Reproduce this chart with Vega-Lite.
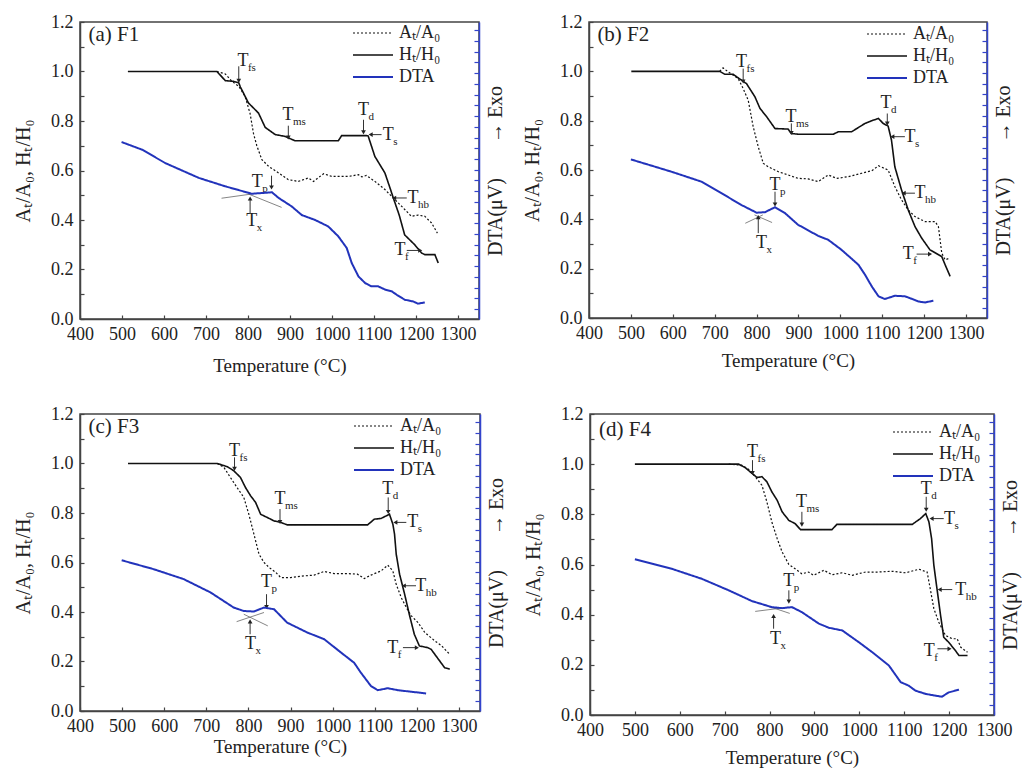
{
  "$schema": "https://vega.github.io/schema/vega-lite/v6.json",
  "padding": {"left": 12, "top": 12, "right": 0, "bottom": 0},
  "config": {
    "font": "Liberation Serif",
    "view": {"stroke": "#444444", "strokeWidth": 1.5},
    "axis": {"labelFont": "Liberation Serif", "titleFont": "Liberation Serif", "labelFontSize": 18, "titleFontSize": 19, "titleFontWeight": "normal", "labelColor": "#222", "titleColor": "#222", "grid": false, "domainColor": "#444", "tickColor": "#444", "domainWidth": 1.5, "tickWidth": 1.2, "labelFlush": false},
    "axisX": {"tickSize": -4, "labelPadding": 10, "titlePadding": 13, "values": [400,450,500,550,600,650,700,750,800,850,900,950,1000,1050,1100,1150,1200,1250,1300], "labelExpr": "datum.value % 100 === 0 ? format(datum.value, 'd') : ''"},
    "legend": {"labelFont": "Liberation Serif", "labelFontSize": 18, "labelColor": "#222", "symbolType": "stroke", "symbolSize": 1600, "symbolStrokeWidth": 2, "rowPadding": 2, "labelOffset": 5, "clipHeight": 20, "padding": 0},
    "text": {"color": "#222"},
    "point": {"filled": true, "color": "#222", "size": 22, "opacity": 1},
    "rule": {"color": "#333", "strokeWidth": 1}
  },
  "datasets": {
    "curves": [
      {"p":"a","s":"H","T":514,"v":1.0},{"p":"a","s":"H","T":726,"v":1.0},{"p":"a","s":"H","T":746,"v":0.963},{"p":"a","s":"H","T":766,"v":0.96},{"p":"a","s":"H","T":778,"v":0.954},{"p":"a","s":"H","T":782,"v":0.937},{"p":"a","s":"H","T":801,"v":0.873},{"p":"a","s":"H","T":825,"v":0.832},{"p":"a","s":"H","T":841,"v":0.774},{"p":"a","s":"H","T":865,"v":0.745},{"p":"a","s":"H","T":888,"v":0.738},{"p":"a","s":"H","T":912,"v":0.72},{"p":"a","s":"H","T":1015,"v":0.72},{"p":"a","s":"H","T":1023,"v":0.741},{"p":"a","s":"H","T":1082,"v":0.741},{"p":"a","s":"H","T":1086,"v":0.74},{"p":"a","s":"H","T":1102,"v":0.657},{"p":"a","s":"H","T":1126,"v":0.59},{"p":"a","s":"H","T":1138,"v":0.53},{"p":"a","s":"H","T":1146,"v":0.489},{"p":"a","s":"H","T":1160,"v":0.42},{"p":"a","s":"H","T":1173,"v":0.34},{"p":"a","s":"H","T":1197,"v":0.30},{"p":"a","s":"H","T":1213,"v":0.267},{"p":"a","s":"H","T":1221,"v":0.26},{"p":"a","s":"H","T":1245,"v":0.26},{"p":"a","s":"H","T":1253,"v":0.226},
      {"p":"a","s":"A","T":726,"v":1.0},{"p":"a","s":"A","T":746,"v":0.99},{"p":"a","s":"A","T":762,"v":0.96},{"p":"a","s":"A","T":778,"v":0.94},{"p":"a","s":"A","T":793,"v":0.90},{"p":"a","s":"A","T":805,"v":0.83},{"p":"a","s":"A","T":813,"v":0.75},{"p":"a","s":"A","T":821,"v":0.70},{"p":"a","s":"A","T":833,"v":0.644},{"p":"a","s":"A","T":849,"v":0.617},{"p":"a","s":"A","T":873,"v":0.59},{"p":"a","s":"A","T":896,"v":0.563},{"p":"a","s":"A","T":920,"v":0.556},{"p":"a","s":"A","T":944,"v":0.57},{"p":"a","s":"A","T":956,"v":0.556},{"p":"a","s":"A","T":980,"v":0.587},{"p":"a","s":"A","T":999,"v":0.576},{"p":"a","s":"A","T":1039,"v":0.576},{"p":"a","s":"A","T":1063,"v":0.583},{"p":"a","s":"A","T":1071,"v":0.574},{"p":"a","s":"A","T":1082,"v":0.58},{"p":"a","s":"A","T":1102,"v":0.556},{"p":"a","s":"A","T":1126,"v":0.523},{"p":"a","s":"A","T":1146,"v":0.489},{"p":"a","s":"A","T":1166,"v":0.455},{"p":"a","s":"A","T":1189,"v":0.415},{"p":"a","s":"A","T":1205,"v":0.42},{"p":"a","s":"A","T":1221,"v":0.415},{"p":"a","s":"A","T":1237,"v":0.388},{"p":"a","s":"A","T":1251,"v":0.347},
      {"p":"a","s":"DTA","T":499,"v":0.715},{"p":"a","s":"DTA","T":548,"v":0.684},{"p":"a","s":"DTA","T":603,"v":0.63},{"p":"a","s":"DTA","T":683,"v":0.57},{"p":"a","s":"DTA","T":746,"v":0.536},{"p":"a","s":"DTA","T":809,"v":0.506},{"p":"a","s":"DTA","T":833,"v":0.509},{"p":"a","s":"DTA","T":857,"v":0.512},{"p":"a","s":"DTA","T":873,"v":0.489},{"p":"a","s":"DTA","T":904,"v":0.455},{"p":"a","s":"DTA","T":928,"v":0.42},{"p":"a","s":"DTA","T":960,"v":0.40},{"p":"a","s":"DTA","T":991,"v":0.374},{"p":"a","s":"DTA","T":1015,"v":0.334},{"p":"a","s":"DTA","T":1035,"v":0.287},{"p":"a","s":"DTA","T":1047,"v":0.226},{"p":"a","s":"DTA","T":1063,"v":0.172},{"p":"a","s":"DTA","T":1079,"v":0.145},{"p":"a","s":"DTA","T":1094,"v":0.132},{"p":"a","s":"DTA","T":1110,"v":0.132},{"p":"a","s":"DTA","T":1126,"v":0.119},{"p":"a","s":"DTA","T":1142,"v":0.112},{"p":"a","s":"DTA","T":1154,"v":0.098},{"p":"a","s":"DTA","T":1173,"v":0.078},{"p":"a","s":"DTA","T":1193,"v":0.071},{"p":"a","s":"DTA","T":1205,"v":0.062},{"p":"a","s":"DTA","T":1221,"v":0.067},
      {"p":"b","s":"H","T":501,"v":1.0},{"p":"b","s":"H","T":712,"v":1.0},{"p":"b","s":"H","T":724,"v":0.988},{"p":"b","s":"H","T":744,"v":0.988},{"p":"b","s":"H","T":764,"v":0.964},{"p":"b","s":"H","T":776,"v":0.95},{"p":"b","s":"H","T":796,"v":0.897},{"p":"b","s":"H","T":808,"v":0.85},{"p":"b","s":"H","T":824,"v":0.816},{"p":"b","s":"H","T":844,"v":0.768},{"p":"b","s":"H","T":875,"v":0.766},{"p":"b","s":"H","T":883,"v":0.748},{"p":"b","s":"H","T":899,"v":0.745},{"p":"b","s":"H","T":983,"v":0.745},{"p":"b","s":"H","T":995,"v":0.755},{"p":"b","s":"H","T":1027,"v":0.755},{"p":"b","s":"H","T":1039,"v":0.768},{"p":"b","s":"H","T":1059,"v":0.789},{"p":"b","s":"H","T":1075,"v":0.8},{"p":"b","s":"H","T":1091,"v":0.809},{"p":"b","s":"H","T":1102,"v":0.789},{"p":"b","s":"H","T":1114,"v":0.778},{"p":"b","s":"H","T":1122,"v":0.721},{"p":"b","s":"H","T":1130,"v":0.613},{"p":"b","s":"H","T":1146,"v":0.519},{"p":"b","s":"H","T":1162,"v":0.438},{"p":"b","s":"H","T":1178,"v":0.371},{"p":"b","s":"H","T":1194,"v":0.324},{"p":"b","s":"H","T":1214,"v":0.276},{"p":"b","s":"H","T":1242,"v":0.249},{"p":"b","s":"H","T":1250,"v":0.216},{"p":"b","s":"H","T":1262,"v":0.169},
      {"p":"b","s":"A","T":712,"v":1.0},{"p":"b","s":"A","T":720,"v":1.014},{"p":"b","s":"A","T":732,"v":0.998},{"p":"b","s":"A","T":756,"v":0.971},{"p":"b","s":"A","T":768,"v":0.93},{"p":"b","s":"A","T":780,"v":0.883},{"p":"b","s":"A","T":792,"v":0.775},{"p":"b","s":"A","T":804,"v":0.694},{"p":"b","s":"A","T":816,"v":0.627},{"p":"b","s":"A","T":828,"v":0.613},{"p":"b","s":"A","T":852,"v":0.593},{"p":"b","s":"A","T":875,"v":0.58},{"p":"b","s":"A","T":899,"v":0.566},{"p":"b","s":"A","T":923,"v":0.564},{"p":"b","s":"A","T":947,"v":0.553},{"p":"b","s":"A","T":971,"v":0.58},{"p":"b","s":"A","T":991,"v":0.566},{"p":"b","s":"A","T":1019,"v":0.573},{"p":"b","s":"A","T":1051,"v":0.587},{"p":"b","s":"A","T":1075,"v":0.597},{"p":"b","s":"A","T":1091,"v":0.617},{"p":"b","s":"A","T":1114,"v":0.6},{"p":"b","s":"A","T":1130,"v":0.533},{"p":"b","s":"A","T":1146,"v":0.479},{"p":"b","s":"A","T":1162,"v":0.438},{"p":"b","s":"A","T":1178,"v":0.411},{"p":"b","s":"A","T":1202,"v":0.391},{"p":"b","s":"A","T":1226,"v":0.391},{"p":"b","s":"A","T":1234,"v":0.371},{"p":"b","s":"A","T":1242,"v":0.263},{"p":"b","s":"A","T":1250,"v":0.236},{"p":"b","s":"A","T":1262,"v":0.243},
      {"p":"b","s":"DTA","T":500,"v":0.643},{"p":"b","s":"DTA","T":597,"v":0.593},{"p":"b","s":"DTA","T":668,"v":0.553},{"p":"b","s":"DTA","T":716,"v":0.506},{"p":"b","s":"DTA","T":764,"v":0.458},{"p":"b","s":"DTA","T":800,"v":0.427},{"p":"b","s":"DTA","T":820,"v":0.429},{"p":"b","s":"DTA","T":844,"v":0.449},{"p":"b","s":"DTA","T":868,"v":0.425},{"p":"b","s":"DTA","T":899,"v":0.378},{"p":"b","s":"DTA","T":947,"v":0.333},{"p":"b","s":"DTA","T":971,"v":0.317},{"p":"b","s":"DTA","T":1003,"v":0.276},{"p":"b","s":"DTA","T":1043,"v":0.216},{"p":"b","s":"DTA","T":1059,"v":0.175},{"p":"b","s":"DTA","T":1075,"v":0.128},{"p":"b","s":"DTA","T":1091,"v":0.088},{"p":"b","s":"DTA","T":1106,"v":0.077},{"p":"b","s":"DTA","T":1130,"v":0.09},{"p":"b","s":"DTA","T":1154,"v":0.088},{"p":"b","s":"DTA","T":1170,"v":0.078},{"p":"b","s":"DTA","T":1186,"v":0.067},{"p":"b","s":"DTA","T":1202,"v":0.063},{"p":"b","s":"DTA","T":1222,"v":0.07},
      {"p":"c","s":"H","T":514,"v":1.0},{"p":"c","s":"H","T":726,"v":1.0},{"p":"c","s":"H","T":750,"v":0.987},{"p":"c","s":"H","T":765,"v":0.971},{"p":"c","s":"H","T":781,"v":0.944},{"p":"c","s":"H","T":793,"v":0.903},{"p":"c","s":"H","T":805,"v":0.87},{"p":"c","s":"H","T":817,"v":0.843},{"p":"c","s":"H","T":829,"v":0.795},{"p":"c","s":"H","T":853,"v":0.775},{"p":"c","s":"H","T":861,"v":0.768},{"p":"c","s":"H","T":877,"v":0.762},{"p":"c","s":"H","T":892,"v":0.752},{"p":"c","s":"H","T":1083,"v":0.752},{"p":"c","s":"H","T":1099,"v":0.775},{"p":"c","s":"H","T":1115,"v":0.778},{"p":"c","s":"H","T":1135,"v":0.795},{"p":"c","s":"H","T":1143,"v":0.755},{"p":"c","s":"H","T":1147,"v":0.715},{"p":"c","s":"H","T":1151,"v":0.634},{"p":"c","s":"H","T":1159,"v":0.553},{"p":"c","s":"H","T":1171,"v":0.472},{"p":"c","s":"H","T":1182,"v":0.391},{"p":"c","s":"H","T":1194,"v":0.31},{"p":"c","s":"H","T":1206,"v":0.263},{"p":"c","s":"H","T":1226,"v":0.256},{"p":"c","s":"H","T":1234,"v":0.249},{"p":"c","s":"H","T":1266,"v":0.175},{"p":"c","s":"H","T":1278,"v":0.169},
      {"p":"c","s":"A","T":726,"v":1.0},{"p":"c","s":"A","T":742,"v":0.984},{"p":"c","s":"A","T":757,"v":0.944},{"p":"c","s":"A","T":773,"v":0.903},{"p":"c","s":"A","T":789,"v":0.863},{"p":"c","s":"A","T":801,"v":0.795},{"p":"c","s":"A","T":813,"v":0.715},{"p":"c","s":"A","T":825,"v":0.634},{"p":"c","s":"A","T":837,"v":0.6},{"p":"c","s":"A","T":849,"v":0.58},{"p":"c","s":"A","T":865,"v":0.56},{"p":"c","s":"A","T":877,"v":0.539},{"p":"c","s":"A","T":900,"v":0.539},{"p":"c","s":"A","T":932,"v":0.546},{"p":"c","s":"A","T":956,"v":0.549},{"p":"c","s":"A","T":980,"v":0.564},{"p":"c","s":"A","T":1004,"v":0.555},{"p":"c","s":"A","T":1035,"v":0.555},{"p":"c","s":"A","T":1059,"v":0.553},{"p":"c","s":"A","T":1075,"v":0.535},{"p":"c","s":"A","T":1091,"v":0.549},{"p":"c","s":"A","T":1115,"v":0.566},{"p":"c","s":"A","T":1131,"v":0.589},{"p":"c","s":"A","T":1143,"v":0.566},{"p":"c","s":"A","T":1151,"v":0.512},{"p":"c","s":"A","T":1163,"v":0.458},{"p":"c","s":"A","T":1175,"v":0.418},{"p":"c","s":"A","T":1187,"v":0.384},{"p":"c","s":"A","T":1203,"v":0.357},{"p":"c","s":"A","T":1219,"v":0.317},{"p":"c","s":"A","T":1243,"v":0.283},{"p":"c","s":"A","T":1259,"v":0.263},{"p":"c","s":"A","T":1278,"v":0.229},
      {"p":"c","s":"DTA","T":499,"v":0.609},{"p":"c","s":"DTA","T":575,"v":0.573},{"p":"c","s":"DTA","T":646,"v":0.533},{"p":"c","s":"DTA","T":710,"v":0.479},{"p":"c","s":"DTA","T":765,"v":0.418},{"p":"c","s":"DTA","T":789,"v":0.404},{"p":"c","s":"DTA","T":813,"v":0.402},{"p":"c","s":"DTA","T":837,"v":0.418},{"p":"c","s":"DTA","T":861,"v":0.411},{"p":"c","s":"DTA","T":892,"v":0.357},{"p":"c","s":"DTA","T":940,"v":0.317},{"p":"c","s":"DTA","T":980,"v":0.29},{"p":"c","s":"DTA","T":1020,"v":0.236},{"p":"c","s":"DTA","T":1051,"v":0.195},{"p":"c","s":"DTA","T":1067,"v":0.155},{"p":"c","s":"DTA","T":1091,"v":0.101},{"p":"c","s":"DTA","T":1107,"v":0.084},{"p":"c","s":"DTA","T":1131,"v":0.092},{"p":"c","s":"DTA","T":1155,"v":0.084},{"p":"c","s":"DTA","T":1186,"v":0.078},{"p":"c","s":"DTA","T":1222,"v":0.071},
      {"p":"d","s":"H","T":500,"v":1.0},{"p":"d","s":"H","T":731,"v":1.0},{"p":"d","s":"H","T":746,"v":0.986},{"p":"d","s":"H","T":761,"v":0.963},{"p":"d","s":"H","T":772,"v":0.947},{"p":"d","s":"H","T":783,"v":0.95},{"p":"d","s":"H","T":794,"v":0.93},{"p":"d","s":"H","T":805,"v":0.89},{"p":"d","s":"H","T":817,"v":0.856},{"p":"d","s":"H","T":828,"v":0.81},{"p":"d","s":"H","T":843,"v":0.776},{"p":"d","s":"H","T":857,"v":0.763},{"p":"d","s":"H","T":869,"v":0.739},{"p":"d","s":"H","T":939,"v":0.739},{"p":"d","s":"H","T":950,"v":0.76},{"p":"d","s":"H","T":1118,"v":0.76},{"p":"d","s":"H","T":1136,"v":0.783},{"p":"d","s":"H","T":1148,"v":0.803},{"p":"d","s":"H","T":1155,"v":0.77},{"p":"d","s":"H","T":1161,"v":0.703},{"p":"d","s":"H","T":1166,"v":0.597},{"p":"d","s":"H","T":1173,"v":0.503},{"p":"d","s":"H","T":1181,"v":0.397},{"p":"d","s":"H","T":1188,"v":0.31},{"p":"d","s":"H","T":1199,"v":0.29},{"p":"d","s":"H","T":1214,"v":0.257},{"p":"d","s":"H","T":1222,"v":0.237},{"p":"d","s":"H","T":1241,"v":0.237},
      {"p":"d","s":"A","T":709,"v":1.0},{"p":"d","s":"A","T":738,"v":0.996},{"p":"d","s":"A","T":753,"v":0.98},{"p":"d","s":"A","T":768,"v":0.95},{"p":"d","s":"A","T":783,"v":0.916},{"p":"d","s":"A","T":794,"v":0.85},{"p":"d","s":"A","T":805,"v":0.77},{"p":"d","s":"A","T":817,"v":0.703},{"p":"d","s":"A","T":828,"v":0.65},{"p":"d","s":"A","T":843,"v":0.6},{"p":"d","s":"A","T":857,"v":0.583},{"p":"d","s":"A","T":872,"v":0.563},{"p":"d","s":"A","T":887,"v":0.57},{"p":"d","s":"A","T":898,"v":0.557},{"p":"d","s":"A","T":921,"v":0.577},{"p":"d","s":"A","T":939,"v":0.559},{"p":"d","s":"A","T":962,"v":0.567},{"p":"d","s":"A","T":984,"v":0.557},{"p":"d","s":"A","T":1014,"v":0.57},{"p":"d","s":"A","T":1043,"v":0.57},{"p":"d","s":"A","T":1073,"v":0.573},{"p":"d","s":"A","T":1103,"v":0.567},{"p":"d","s":"A","T":1133,"v":0.581},{"p":"d","s":"A","T":1151,"v":0.57},{"p":"d","s":"A","T":1158,"v":0.503},{"p":"d","s":"A","T":1166,"v":0.424},{"p":"d","s":"A","T":1177,"v":0.37},{"p":"d","s":"A","T":1192,"v":0.317},{"p":"d","s":"A","T":1207,"v":0.304},{"p":"d","s":"A","T":1218,"v":0.304},{"p":"d","s":"A","T":1226,"v":0.27},{"p":"d","s":"A","T":1241,"v":0.25},
      {"p":"d","s":"DTA","T":500,"v":0.621},{"p":"d","s":"DTA","T":582,"v":0.583},{"p":"d","s":"DTA","T":649,"v":0.543},{"p":"d","s":"DTA","T":709,"v":0.497},{"p":"d","s":"DTA","T":761,"v":0.454},{"p":"d","s":"DTA","T":805,"v":0.43},{"p":"d","s":"DTA","T":828,"v":0.426},{"p":"d","s":"DTA","T":850,"v":0.43},{"p":"d","s":"DTA","T":872,"v":0.41},{"p":"d","s":"DTA","T":910,"v":0.364},{"p":"d","s":"DTA","T":932,"v":0.348},{"p":"d","s":"DTA","T":962,"v":0.337},{"p":"d","s":"DTA","T":999,"v":0.29},{"p":"d","s":"DTA","T":1029,"v":0.25},{"p":"d","s":"DTA","T":1066,"v":0.197},{"p":"d","s":"DTA","T":1092,"v":0.131},{"p":"d","s":"DTA","T":1110,"v":0.117},{"p":"d","s":"DTA","T":1125,"v":0.097},{"p":"d","s":"DTA","T":1148,"v":0.084},{"p":"d","s":"DTA","T":1170,"v":0.077},{"p":"d","s":"DTA","T":1184,"v":0.073},{"p":"d","s":"DTA","T":1199,"v":0.09},{"p":"d","s":"DTA","T":1222,"v":0.101}
    ],
    "labels": [
      {"p":"a","T":788,"v":1.041,"sub":"fs"},{"p":"a","T":895,"v":0.826,"sub":"ms"},{"p":"a","T":1075,"v":0.846,"sub":"d"},{"p":"a","T":1134,"v":0.745,"sub":"s"},{"p":"a","T":1193,"v":0.489,"sub":"hb"},{"p":"a","T":1162,"v":0.28,"sub":"f"},{"p":"a","T":809,"v":0.395,"sub":"x"},{"p":"a","T":822,"v":0.552,"sub":"p"},
      {"p":"b","T":764,"v":1.038,"sub":"fs"},{"p":"b","T":882,"v":0.816,"sub":"ms"},{"p":"b","T":1109,"v":0.87,"sub":"d"},{"p":"b","T":1166,"v":0.735,"sub":"s"},{"p":"b","T":1190,"v":0.506,"sub":"hb"},{"p":"b","T":1162,"v":0.26,"sub":"f"},{"p":"b","T":812,"v":0.303,"sub":"x"},{"p":"b","T":844,"v":0.539,"sub":"p"},
      {"p":"c","T":767,"v":1.052,"sub":"fs"},{"p":"c","T":875,"v":0.856,"sub":"ms"},{"p":"c","T":1131,"v":0.897,"sub":"d"},{"p":"c","T":1190,"v":0.762,"sub":"s"},{"p":"c","T":1209,"v":0.506,"sub":"hb"},{"p":"c","T":1143,"v":0.256,"sub":"f"},{"p":"c","T":805,"v":0.27,"sub":"x"},{"p":"c","T":843,"v":0.522,"sub":"p"},
      {"p":"d","T":762,"v":1.047,"sub":"fs"},{"p":"d","T":871,"v":0.85,"sub":"ms"},{"p":"d","T":1149,"v":0.9,"sub":"d"},{"p":"d","T":1201,"v":0.783,"sub":"s"},{"p":"d","T":1226,"v":0.5,"sub":"hb"},{"p":"d","T":1156,"v":0.257,"sub":"f"},{"p":"d","T":813,"v":0.304,"sub":"x"},{"p":"d","T":843,"v":0.533,"sub":"p"}
    ],
    "arrows": [
      {"p":"a","dir":"down","T":778,"v":1.021,"T2":778,"v2":0.962},{"p":"a","dir":"down","T":896,"v":0.781,"T2":896,"v2":0.733},{"p":"a","dir":"down","T":1075,"v":0.805,"T2":1075,"v2":0.754},{"p":"a","dir":"left","T":1118,"v":0.745,"T2":1092,"v2":0.745},{"p":"a","dir":"left","T":1178,"v":0.489,"T2":1148,"v2":0.489},{"p":"a","dir":"right","T":1178,"v":0.277,"T2":1210,"v2":0.277},{"p":"a","dir":"up","T":805,"v":0.428,"T2":805,"v2":0.487},{"p":"a","dir":"down","T":856,"v":0.579,"T2":856,"v2":0.531},
      {"p":"b","dir":"down","T":768,"v":1.011,"T2":768,"v2":0.959},{"p":"b","dir":"down","T":883,"v":0.789,"T2":883,"v2":0.75},{"p":"b","dir":"down","T":1112,"v":0.829,"T2":1112,"v2":0.788},{"p":"b","dir":"left","T":1154,"v":0.735,"T2":1124,"v2":0.735},{"p":"b","dir":"left","T":1178,"v":0.506,"T2":1151,"v2":0.506},{"p":"b","dir":"right","T":1182,"v":0.259,"T2":1214,"v2":0.259},{"p":"b","dir":"up","T":804,"v":0.344,"T2":804,"v2":0.409},{"p":"b","dir":"down","T":844,"v":0.512,"T2":844,"v2":0.46},
      {"p":"c","dir":"down","T":767,"v":1.025,"T2":767,"v2":0.979},{"p":"c","dir":"down","T":875,"v":0.816,"T2":875,"v2":0.764},{"p":"c","dir":"down","T":1132,"v":0.863,"T2":1132,"v2":0.804},{"p":"c","dir":"left","T":1175,"v":0.762,"T2":1149,"v2":0.762},{"p":"c","dir":"left","T":1198,"v":0.506,"T2":1169,"v2":0.506},{"p":"c","dir":"right","T":1167,"v":0.256,"T2":1200,"v2":0.256},{"p":"c","dir":"up","T":804,"v":0.31,"T2":804,"v2":0.362},{"p":"c","dir":"down","T":843,"v":0.472,"T2":843,"v2":0.42},
      {"p":"d","dir":"down","T":762,"v":1.016,"T2":762,"v2":0.965},{"p":"d","dir":"down","T":872,"v":0.81,"T2":872,"v2":0.759},{"p":"d","dir":"down","T":1149,"v":0.87,"T2":1149,"v2":0.818},{"p":"d","dir":"left","T":1188,"v":0.783,"T2":1161,"v2":0.783},{"p":"d","dir":"left","T":1207,"v":0.5,"T2":1179,"v2":0.5},{"p":"d","dir":"right","T":1174,"v":0.264,"T2":1201,"v2":0.264},{"p":"d","dir":"up","T":809,"v":0.344,"T2":809,"v2":0.395},{"p":"d","dir":"down","T":843,"v":0.497,"T2":843,"v2":0.452}
    ],
    "tangents": [
      {"p":"a","T":737,"v":0.488,"T2":809,"v2":0.505},{"p":"a","T":801,"v":0.505,"T2":880,"v2":0.451},
      {"p":"b","T":773,"v":0.384,"T2":815,"v2":0.418},{"p":"b","T":795,"v":0.418,"T2":837,"v2":0.387},
      {"p":"c","T":772,"v":0.361,"T2":837,"v2":0.398},{"p":"c","T":789,"v":0.391,"T2":846,"v2":0.344},
      {"p":"d","T":768,"v":0.413,"T2":843,"v2":0.43},{"p":"d","T":790,"v":0.438,"T2":845,"v2":0.405}
    ],
    "titles": [
      {"p":"a","T":420,"v":1.148,"txt":"(a) F1"},{"p":"b","T":420,"v":1.146,"txt":"(b) F2"},{"p":"c","T":420,"v":1.146,"txt":"(c) F3"},{"p":"d","T":420,"v":1.136,"txt":"(d) F4"}
    ]
  },
  "spacing": 28,
  "resolve": {"scale": {"color": "independent", "strokeDash": "independent", "strokeWidth": "independent", "shape": "independent"}, "legend": {"color": "independent", "strokeDash": "independent"}},
  "vconcat": [
    {
      "spacing": 14,
      "resolve": {"scale": {"color": "independent", "strokeDash": "independent", "strokeWidth": "independent", "shape": "independent"}, "legend": {"color": "independent", "strokeDash": "independent"}},
      "hconcat": [
        {
          "width": 399, "height": 297,
          "encoding": {"x": {"field": "T", "type": "quantitative", "scale": {"domain": [400, 1350], "nice": false}, "axis": {"title": "Temperature (°C)", "titlePadding": 13}}},
          "layer": [
            {
              "encoding": {"y": {"field": "v", "type": "quantitative", "scale": {"domain": [0, 1.2], "nice": false}, "axis": {"title": "Aₜ/A₀, Hₜ/H₀", "titleFontSize": 20, "values": [0,0.1,0.2,0.3,0.4,0.5,0.6,0.7,0.8,0.9,1.0,1.1,1.2], "labelExpr": "round(datum.value*10) % 2 === 0 ? format(datum.value, '.1f') : ''", "tickSize": -4, "labelPadding": 11, "titlePadding": 17}}},
              "layer": [
                {"data": {"name": "curves"}, "transform": [{"filter": "datum.p === 'a' && datum.s !== 'DTA'"}], "mark": {"type": "line"},
                 "encoding": {
                   "color": {"field": "s", "type": "nominal", "scale": {"domain": ["A", "H", "DTA"], "range": ["#111111", "#111111", "#2233bb"]}, "legend": {"title": null, "orient": "none", "legendX": 272, "legendY": 1, "labelExpr": "datum.label === 'A' ? 'Aₜ/A₀' : datum.label === 'H' ? 'Hₜ/H₀' : 'DTA'"}},
                   "strokeDash": {"field": "s", "type": "nominal", "scale": {"domain": ["A", "H", "DTA"], "range": [[2, 2], [1, 0], [1, 0]]}, "legend": {"title": null, "orient": "none", "legendX": 272, "legendY": 1, "labelExpr": "datum.label === 'A' ? 'Aₜ/A₀' : datum.label === 'H' ? 'Hₜ/H₀' : 'DTA'"}},
                   "strokeWidth": {"field": "s", "type": "nominal", "scale": {"domain": ["A", "H", "DTA"], "range": [1.2, 2, 2]}, "legend": null}
                 }},
                {"data": {"name": "tangents"}, "transform": [{"filter": "datum.p === 'a'"}], "mark": {"type": "rule", "color": "#666666", "strokeWidth": 0.8}, "encoding": {"x2": {"field": "T2"}, "y2": {"field": "v2"}}},
                {"data": {"name": "arrows"}, "transform": [{"filter": "datum.p === 'a'"}], "mark": {"type": "rule"}, "encoding": {"x2": {"field": "T2"}, "y2": {"field": "v2"}}},
                {"data": {"name": "arrows"}, "transform": [{"filter": "datum.p === 'a'"}], "mark": {"type": "point"}, "encoding": {"x": {"field": "T2", "type": "quantitative"}, "y": {"field": "v2", "type": "quantitative"}, "shape": {"field": "dir", "type": "nominal", "scale": {"domain": ["down", "up", "left", "right"], "range": ["triangle-down", "triangle-up", "triangle-left", "triangle-right"]}, "legend": null}}},
                {"data": {"name": "labels"}, "transform": [{"filter": "datum.p === 'a'"}], "mark": {"type": "text", "text": "T", "fontSize": 18, "align": "center", "baseline": "middle"}},
                {"data": {"name": "labels"}, "transform": [{"filter": "datum.p === 'a'"}], "mark": {"type": "text", "fontSize": 11, "align": "left", "baseline": "middle", "dx": 5, "dy": 7}, "encoding": {"text": {"field": "sub"}}},
                {"data": {"name": "titles"}, "transform": [{"filter": "datum.p === 'a'"}], "mark": {"type": "text", "fontSize": 21, "align": "left", "baseline": "middle"}, "encoding": {"text": {"field": "txt"}}}
              ]
            },
            {"data": {"name": "curves"}, "transform": [{"filter": "datum.p === 'a' && datum.s === 'DTA'"}], "mark": {"type": "line"},
             "encoding": {
               "y": {"field": "v", "type": "quantitative", "scale": {"domain": [0, 1.2], "nice": false}, "axis": {"orient": "right", "title": "DTA(μV)\u00a0\u00a0\u00a0\u00a0\u00a0\u00a0\u00a0→ Exo", "titleAngle": 270, "labels": false, "values": [0.04,0.083,0.127,0.17,0.213,0.257,0.3,0.343,0.387,0.43,0.473,0.517,0.56,0.603,0.647,0.69,0.733,0.777,0.82,0.863,0.907,0.95,0.993,1.037,1.08,1.123,1.167], "tickSize": -5, "domainColor": "#3344cc", "tickColor": "#3344cc", "titlePadding": 26, "titleFontSize": 20}},
               "color": {"field": "s", "type": "nominal", "scale": {"domain": ["A", "H", "DTA"], "range": ["#111111", "#111111", "#2233bb"]}, "legend": {"title": null, "orient": "none", "legendX": 272, "legendY": 1, "labelExpr": "datum.label === 'A' ? 'Aₜ/A₀' : datum.label === 'H' ? 'Hₜ/H₀' : 'DTA'"}},
               "strokeDash": {"field": "s", "type": "nominal", "scale": {"domain": ["A", "H", "DTA"], "range": [[2, 2], [1, 0], [1, 0]]}, "legend": {"title": null, "orient": "none", "legendX": 272, "legendY": 1, "labelExpr": "datum.label === 'A' ? 'Aₜ/A₀' : datum.label === 'H' ? 'Hₜ/H₀' : 'DTA'"}},
               "strokeWidth": {"field": "s", "type": "nominal", "scale": {"domain": ["A", "H", "DTA"], "range": [1.2, 2, 2]}, "legend": null}
             }}
          ],
          "resolve": {"scale": {"y": "independent"}}
        },
        {
          "width": 398, "height": 296,
          "encoding": {"x": {"field": "T", "type": "quantitative", "scale": {"domain": [400, 1350], "nice": false}, "axis": {"title": "Temperature (°C)", "titlePadding": 9}}},
          "layer": [
            {
              "encoding": {"y": {"field": "v", "type": "quantitative", "scale": {"domain": [0, 1.2], "nice": false}, "axis": {"title": "Aₜ/A₀, Hₜ/H₀", "titleFontSize": 20, "values": [0,0.1,0.2,0.3,0.4,0.5,0.6,0.7,0.8,0.9,1.0,1.1,1.2], "labelExpr": "round(datum.value*10) % 2 === 0 ? format(datum.value, '.1f') : ''", "tickSize": -4, "labelPadding": 11, "titlePadding": 17}}},
              "layer": [
                {"data": {"name": "curves"}, "transform": [{"filter": "datum.p === 'b' && datum.s !== 'DTA'"}], "mark": {"type": "line"},
                 "encoding": {
                   "color": {"field": "s", "type": "nominal", "scale": {"domain": ["A", "H", "DTA"], "range": ["#111111", "#111111", "#2233bb"]}, "legend": {"title": null, "orient": "none", "legendX": 277, "legendY": 2, "labelExpr": "datum.label === 'A' ? 'Aₜ/A₀' : datum.label === 'H' ? 'Hₜ/H₀' : 'DTA'"}},
                   "strokeDash": {"field": "s", "type": "nominal", "scale": {"domain": ["A", "H", "DTA"], "range": [[2, 2], [1, 0], [1, 0]]}, "legend": {"title": null, "orient": "none", "legendX": 277, "legendY": 2, "labelExpr": "datum.label === 'A' ? 'Aₜ/A₀' : datum.label === 'H' ? 'Hₜ/H₀' : 'DTA'"}},
                   "strokeWidth": {"field": "s", "type": "nominal", "scale": {"domain": ["A", "H", "DTA"], "range": [1.2, 2, 2]}, "legend": null}
                 }},
                {"data": {"name": "tangents"}, "transform": [{"filter": "datum.p === 'b'"}], "mark": {"type": "rule", "color": "#666666", "strokeWidth": 0.8}, "encoding": {"x2": {"field": "T2"}, "y2": {"field": "v2"}}},
                {"data": {"name": "arrows"}, "transform": [{"filter": "datum.p === 'b'"}], "mark": {"type": "rule"}, "encoding": {"x2": {"field": "T2"}, "y2": {"field": "v2"}}},
                {"data": {"name": "arrows"}, "transform": [{"filter": "datum.p === 'b'"}], "mark": {"type": "point"}, "encoding": {"x": {"field": "T2", "type": "quantitative"}, "y": {"field": "v2", "type": "quantitative"}, "shape": {"field": "dir", "type": "nominal", "scale": {"domain": ["down", "up", "left", "right"], "range": ["triangle-down", "triangle-up", "triangle-left", "triangle-right"]}, "legend": null}}},
                {"data": {"name": "labels"}, "transform": [{"filter": "datum.p === 'b'"}], "mark": {"type": "text", "text": "T", "fontSize": 18, "align": "center", "baseline": "middle"}},
                {"data": {"name": "labels"}, "transform": [{"filter": "datum.p === 'b'"}], "mark": {"type": "text", "fontSize": 11, "align": "left", "baseline": "middle", "dx": 5, "dy": 7}, "encoding": {"text": {"field": "sub"}}},
                {"data": {"name": "titles"}, "transform": [{"filter": "datum.p === 'b'"}], "mark": {"type": "text", "fontSize": 21, "align": "left", "baseline": "middle"}, "encoding": {"text": {"field": "txt"}}}
              ]
            },
            {"data": {"name": "curves"}, "transform": [{"filter": "datum.p === 'b' && datum.s === 'DTA'"}], "mark": {"type": "line"},
             "encoding": {
               "y": {"field": "v", "type": "quantitative", "scale": {"domain": [0, 1.2], "nice": false}, "axis": {"orient": "right", "title": "DTA(μV)\u00a0\u00a0\u00a0\u00a0\u00a0\u00a0\u00a0→ Exo", "titleAngle": 270, "labels": false, "values": [0.04,0.083,0.127,0.17,0.213,0.257,0.3,0.343,0.387,0.43,0.473,0.517,0.56,0.603,0.647,0.69,0.733,0.777,0.82,0.863,0.907,0.95,0.993,1.037,1.08,1.123,1.167], "tickSize": -5, "domainColor": "#3344cc", "tickColor": "#3344cc", "titlePadding": 26, "titleFontSize": 20}},
               "color": {"field": "s", "type": "nominal", "scale": {"domain": ["A", "H", "DTA"], "range": ["#111111", "#111111", "#2233bb"]}, "legend": {"title": null, "orient": "none", "legendX": 277, "legendY": 2, "labelExpr": "datum.label === 'A' ? 'Aₜ/A₀' : datum.label === 'H' ? 'Hₜ/H₀' : 'DTA'"}},
               "strokeDash": {"field": "s", "type": "nominal", "scale": {"domain": ["A", "H", "DTA"], "range": [[2, 2], [1, 0], [1, 0]]}, "legend": {"title": null, "orient": "none", "legendX": 277, "legendY": 2, "labelExpr": "datum.label === 'A' ? 'Aₜ/A₀' : datum.label === 'H' ? 'Hₜ/H₀' : 'DTA'"}},
               "strokeWidth": {"field": "s", "type": "nominal", "scale": {"domain": ["A", "H", "DTA"], "range": [1.2, 2, 2]}, "legend": null}
             }}
          ],
          "resolve": {"scale": {"y": "independent"}}
        }
      ]
    },
    {
      "spacing": 14,
      "resolve": {"scale": {"color": "independent", "strokeDash": "independent", "strokeWidth": "independent", "shape": "independent"}, "legend": {"color": "independent", "strokeDash": "independent"}},
      "hconcat": [
        {
          "width": 400, "height": 297,
          "encoding": {"x": {"field": "T", "type": "quantitative", "scale": {"domain": [400, 1350], "nice": false}, "axis": {"title": "Temperature (°C)", "titlePadding": 2}}},
          "layer": [
            {
              "encoding": {"y": {"field": "v", "type": "quantitative", "scale": {"domain": [0, 1.2], "nice": false}, "axis": {"title": "Aₜ/A₀, Hₜ/H₀", "titleFontSize": 20, "values": [0,0.1,0.2,0.3,0.4,0.5,0.6,0.7,0.8,0.9,1.0,1.1,1.2], "labelExpr": "round(datum.value*10) % 2 === 0 ? format(datum.value, '.1f') : ''", "tickSize": -4, "labelPadding": 11, "titlePadding": 17}}},
              "layer": [
                {"data": {"name": "curves"}, "transform": [{"filter": "datum.p === 'c' && datum.s !== 'DTA'"}], "mark": {"type": "line"},
                 "encoding": {
                   "color": {"field": "s", "type": "nominal", "scale": {"domain": ["A", "H", "DTA"], "range": ["#111111", "#111111", "#2233bb"]}, "legend": {"title": null, "orient": "none", "legendX": 273, "legendY": 2, "labelExpr": "datum.label === 'A' ? 'Aₜ/A₀' : datum.label === 'H' ? 'Hₜ/H₀' : 'DTA'"}},
                   "strokeDash": {"field": "s", "type": "nominal", "scale": {"domain": ["A", "H", "DTA"], "range": [[2, 2], [1, 0], [1, 0]]}, "legend": {"title": null, "orient": "none", "legendX": 273, "legendY": 2, "labelExpr": "datum.label === 'A' ? 'Aₜ/A₀' : datum.label === 'H' ? 'Hₜ/H₀' : 'DTA'"}},
                   "strokeWidth": {"field": "s", "type": "nominal", "scale": {"domain": ["A", "H", "DTA"], "range": [1.2, 2, 2]}, "legend": null}
                 }},
                {"data": {"name": "tangents"}, "transform": [{"filter": "datum.p === 'c'"}], "mark": {"type": "rule", "color": "#666666", "strokeWidth": 0.8}, "encoding": {"x2": {"field": "T2"}, "y2": {"field": "v2"}}},
                {"data": {"name": "arrows"}, "transform": [{"filter": "datum.p === 'c'"}], "mark": {"type": "rule"}, "encoding": {"x2": {"field": "T2"}, "y2": {"field": "v2"}}},
                {"data": {"name": "arrows"}, "transform": [{"filter": "datum.p === 'c'"}], "mark": {"type": "point"}, "encoding": {"x": {"field": "T2", "type": "quantitative"}, "y": {"field": "v2", "type": "quantitative"}, "shape": {"field": "dir", "type": "nominal", "scale": {"domain": ["down", "up", "left", "right"], "range": ["triangle-down", "triangle-up", "triangle-left", "triangle-right"]}, "legend": null}}},
                {"data": {"name": "labels"}, "transform": [{"filter": "datum.p === 'c'"}], "mark": {"type": "text", "text": "T", "fontSize": 18, "align": "center", "baseline": "middle"}},
                {"data": {"name": "labels"}, "transform": [{"filter": "datum.p === 'c'"}], "mark": {"type": "text", "fontSize": 11, "align": "left", "baseline": "middle", "dx": 5, "dy": 7}, "encoding": {"text": {"field": "sub"}}},
                {"data": {"name": "titles"}, "transform": [{"filter": "datum.p === 'c'"}], "mark": {"type": "text", "fontSize": 21, "align": "left", "baseline": "middle"}, "encoding": {"text": {"field": "txt"}}}
              ]
            },
            {"data": {"name": "curves"}, "transform": [{"filter": "datum.p === 'c' && datum.s === 'DTA'"}], "mark": {"type": "line"},
             "encoding": {
               "y": {"field": "v", "type": "quantitative", "scale": {"domain": [0, 1.2], "nice": false}, "axis": {"orient": "right", "title": "DTA(μV)\u00a0\u00a0\u00a0\u00a0\u00a0\u00a0\u00a0→ Exo", "titleAngle": 270, "labels": false, "values": [0.04,0.083,0.127,0.17,0.213,0.257,0.3,0.343,0.387,0.43,0.473,0.517,0.56,0.603,0.647,0.69,0.733,0.777,0.82,0.863,0.907,0.95,0.993,1.037,1.08,1.123,1.167], "tickSize": -5, "domainColor": "#3344cc", "tickColor": "#3344cc", "titlePadding": 26, "titleFontSize": 20}},
               "color": {"field": "s", "type": "nominal", "scale": {"domain": ["A", "H", "DTA"], "range": ["#111111", "#111111", "#2233bb"]}, "legend": {"title": null, "orient": "none", "legendX": 273, "legendY": 2, "labelExpr": "datum.label === 'A' ? 'Aₜ/A₀' : datum.label === 'H' ? 'Hₜ/H₀' : 'DTA'"}},
               "strokeDash": {"field": "s", "type": "nominal", "scale": {"domain": ["A", "H", "DTA"], "range": [[2, 2], [1, 0], [1, 0]]}, "legend": {"title": null, "orient": "none", "legendX": 273, "legendY": 2, "labelExpr": "datum.label === 'A' ? 'Aₜ/A₀' : datum.label === 'H' ? 'Hₜ/H₀' : 'DTA'"}},
               "strokeWidth": {"field": "s", "type": "nominal", "scale": {"domain": ["A", "H", "DTA"], "range": [1.2, 2, 2]}, "legend": null}
             }}
          ],
          "resolve": {"scale": {"y": "independent"}}
        },
        {
          "width": 404, "height": 301,
          "encoding": {"x": {"field": "T", "type": "quantitative", "scale": {"domain": [400, 1300], "nice": false}, "axis": {"title": "Temperature (°C)", "titlePadding": 9}}},
          "layer": [
            {
              "encoding": {"y": {"field": "v", "type": "quantitative", "scale": {"domain": [0, 1.2], "nice": false}, "axis": {"title": "Aₜ/A₀, Hₜ/H₀", "titleFontSize": 20, "values": [0,0.1,0.2,0.3,0.4,0.5,0.6,0.7,0.8,0.9,1.0,1.1,1.2], "labelExpr": "round(datum.value*10) % 2 === 0 ? format(datum.value, '.1f') : ''", "tickSize": -4, "labelPadding": 11, "titlePadding": 17}}},
              "layer": [
                {"data": {"name": "curves"}, "transform": [{"filter": "datum.p === 'd' && datum.s !== 'DTA'"}], "mark": {"type": "line"},
                 "encoding": {
                   "color": {"field": "s", "type": "nominal", "scale": {"domain": ["A", "H", "DTA"], "range": ["#111111", "#111111", "#2233bb"]}, "legend": {"title": null, "orient": "none", "legendX": 302, "legendY": 8, "labelExpr": "datum.label === 'A' ? 'Aₜ/A₀' : datum.label === 'H' ? 'Hₜ/H₀' : 'DTA'"}},
                   "strokeDash": {"field": "s", "type": "nominal", "scale": {"domain": ["A", "H", "DTA"], "range": [[2, 2], [1, 0], [1, 0]]}, "legend": {"title": null, "orient": "none", "legendX": 302, "legendY": 8, "labelExpr": "datum.label === 'A' ? 'Aₜ/A₀' : datum.label === 'H' ? 'Hₜ/H₀' : 'DTA'"}},
                   "strokeWidth": {"field": "s", "type": "nominal", "scale": {"domain": ["A", "H", "DTA"], "range": [1.2, 2, 2]}, "legend": null}
                 }},
                {"data": {"name": "tangents"}, "transform": [{"filter": "datum.p === 'd'"}], "mark": {"type": "rule", "color": "#666666", "strokeWidth": 0.8}, "encoding": {"x2": {"field": "T2"}, "y2": {"field": "v2"}}},
                {"data": {"name": "arrows"}, "transform": [{"filter": "datum.p === 'd'"}], "mark": {"type": "rule"}, "encoding": {"x2": {"field": "T2"}, "y2": {"field": "v2"}}},
                {"data": {"name": "arrows"}, "transform": [{"filter": "datum.p === 'd'"}], "mark": {"type": "point"}, "encoding": {"x": {"field": "T2", "type": "quantitative"}, "y": {"field": "v2", "type": "quantitative"}, "shape": {"field": "dir", "type": "nominal", "scale": {"domain": ["down", "up", "left", "right"], "range": ["triangle-down", "triangle-up", "triangle-left", "triangle-right"]}, "legend": null}}},
                {"data": {"name": "labels"}, "transform": [{"filter": "datum.p === 'd'"}], "mark": {"type": "text", "text": "T", "fontSize": 18, "align": "center", "baseline": "middle"}},
                {"data": {"name": "labels"}, "transform": [{"filter": "datum.p === 'd'"}], "mark": {"type": "text", "fontSize": 11, "align": "left", "baseline": "middle", "dx": 5, "dy": 7}, "encoding": {"text": {"field": "sub"}}},
                {"data": {"name": "titles"}, "transform": [{"filter": "datum.p === 'd'"}], "mark": {"type": "text", "fontSize": 21, "align": "left", "baseline": "middle"}, "encoding": {"text": {"field": "txt"}}}
              ]
            },
            {"data": {"name": "curves"}, "transform": [{"filter": "datum.p === 'd' && datum.s === 'DTA'"}], "mark": {"type": "line"},
             "encoding": {
               "y": {"field": "v", "type": "quantitative", "scale": {"domain": [0, 1.2], "nice": false}, "axis": {"orient": "right", "title": "DTA(μV)\u00a0\u00a0\u00a0\u00a0\u00a0\u00a0\u00a0→ Exo", "titleAngle": 270, "labels": false, "values": [0.04,0.083,0.127,0.17,0.213,0.257,0.3,0.343,0.387,0.43,0.473,0.517,0.56,0.603,0.647,0.69,0.733,0.777,0.82,0.863,0.907,0.95,0.993,1.037,1.08,1.123,1.167], "tickSize": -5, "domainColor": "#3344cc", "tickColor": "#3344cc", "titlePadding": 26, "titleFontSize": 20}},
               "color": {"field": "s", "type": "nominal", "scale": {"domain": ["A", "H", "DTA"], "range": ["#111111", "#111111", "#2233bb"]}, "legend": {"title": null, "orient": "none", "legendX": 302, "legendY": 8, "labelExpr": "datum.label === 'A' ? 'Aₜ/A₀' : datum.label === 'H' ? 'Hₜ/H₀' : 'DTA'"}},
               "strokeDash": {"field": "s", "type": "nominal", "scale": {"domain": ["A", "H", "DTA"], "range": [[2, 2], [1, 0], [1, 0]]}, "legend": {"title": null, "orient": "none", "legendX": 302, "legendY": 8, "labelExpr": "datum.label === 'A' ? 'Aₜ/A₀' : datum.label === 'H' ? 'Hₜ/H₀' : 'DTA'"}},
               "strokeWidth": {"field": "s", "type": "nominal", "scale": {"domain": ["A", "H", "DTA"], "range": [1.2, 2, 2]}, "legend": null}
             }}
          ],
          "resolve": {"scale": {"y": "independent"}}
        }
      ]
    }
  ]
}
